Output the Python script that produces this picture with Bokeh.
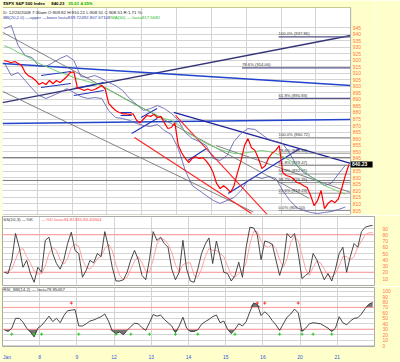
import numpy as np
from bokeh.plotting import figure
from bokeh.layouts import column
from bokeh.models import FixedTicker, LinearAxis
from bokeh.core.properties import value
from bokeh.embed import file_html
from bokeh.resources import INLINE

# ---------------- data ----------------
day_labels = ["Jan", "8", "9", "12", "13", "14", "15", "16", "20", "21"]
bars_per_day = 10
price_ticks = list(range(805, 950, 5))

close = [919.8, 919.0, 918.0, 919.0, 917.5, 916.0, 910.6, 908.0, 906.8, 904.5,
         901.4, 903.0, 901.4, 904.5, 902.0, 904.5, 903.0, 905.0, 907.5, 910.6,
         911.0, 899.0, 898.0, 896.8, 898.0, 896.8, 897.6, 899.0, 900.6, 898.0,
         887.0, 884.0, 881.5, 880.0, 879.0, 879.0, 878.5, 879.0, 874.0, 872.0,
         875.0, 877.7, 877.0, 878.5, 876.0, 877.0, 872.0, 867.7, 868.5, 872.0,
         854.7, 849.0, 844.8, 841.7, 844.8, 846.0, 844.8, 845.5, 843.0, 839.4,
         834.0, 825.7, 821.8, 824.0, 821.8, 818.8, 824.0, 834.0, 843.0, 854.7,
         860.0, 853.0, 851.0, 844.8, 837.0, 839.4, 845.5, 849.0, 851.0, 854.7,
         834.0, 831.8, 831.0, 829.5, 826.4, 825.7, 824.0, 822.6, 816.5, 808.8,
         812.6, 820.3, 806.5, 810.4, 812.6, 811.0, 814.0, 822.6, 832.0, 840.2]

# Bollinger bands and MA(50), one value every 2 bars
bb_upper = [944.2, 946.5, 931.2, 923.6, 922.0, 915.2, 915.2, 918.2, 921.3, 923.6,
            919.8, 907.5, 906.7, 908.3, 906.0, 902.9, 900.6, 896.8, 890.7, 886.1,
            881.5, 883.0, 885.3, 883.0, 879.2, 873.9, 864.7, 860.1, 857.8, 854.7,
            844.8, 843.3, 847.1, 857.8, 863.9, 867.7, 867.0, 863.1, 859.3, 857.8,
            856.3, 848.6, 839.4, 834.1, 831.0, 828.0, 824.1, 826.0, 833.0, 839.7]
bb_lower = [918.2, 908.3, 910.6, 904.5, 898.3, 893.0, 890.7, 893.0, 895.3, 898.3,
            895.3, 892.2, 890.7, 891.4, 890.7, 881.5, 876.1, 875.4, 873.9, 871.6,
            870.0, 869.3, 870.8, 866.2, 863.1, 852.4, 835.6, 824.1, 820.3, 816.5,
            812.7, 810.4, 812.7, 814.9, 820.3, 828.0, 831.0, 829.5, 831.0, 829.5,
            820.3, 812.7, 807.3, 805.0, 803.5, 802.7, 803.5, 804.2, 805.8, 807.7]
ma50 = [931.2, 928.9, 925.9, 923.6, 920.5, 917.5, 915.2, 912.9, 910.6, 909.0,
        906.7, 905.2, 903.7, 902.2, 900.6, 897.6, 894.5, 891.4, 888.4, 885.3,
        883.0, 880.7, 877.7, 875.4, 873.9, 870.8, 865.4, 862.4, 859.3, 856.3,
        854.0, 851.7, 850.1, 848.6, 848.6, 849.4, 850.1, 850.9, 850.1, 848.6,
        846.3, 843.3, 840.2, 835.6, 831.0, 827.2, 824.1, 821.8, 819.5, 817.6]

stoch_k = [20, 18, 39, 82, 60, 28, 39, 18, 4, 28,
           20, 71, 76, 50, 34, 25, 40, 66, 84, 55,
           50, 12, 23, 39, 35, 50, 45, 85, 60, 28,
           6, 6, 8, 20, 40, 55, 40, 15, 8, 40,
           85, 71, 76, 66, 60, 25, 8, 20, 71, 25,
           6, 4, 25, 50, 65, 75, 34, 70, 45, 20,
           18, 6, 15, 36, 12, 60, 92, 91, 80, 40,
           70, 68, 65, 40, 15, 35, 82, 75, 82, 50,
           10, 15, 20, 50, 40, 23, 8, 18, 6, 25,
           50, 60, 20, 45, 66, 60, 85, 92, 94, 94.8]
stoch_d = [20, 22, 25, 40, 55, 58, 45, 35, 22, 17,
           18, 30, 50, 60, 55, 40, 33, 42, 60, 65,
           62, 40, 28, 25, 32, 42, 45, 58, 65, 55,
           32, 15, 8, 12, 25, 38, 45, 35, 22, 20,
           40, 65, 75, 72, 65, 52, 32, 20, 32, 35,
           35, 15, 12, 25, 45, 58, 55, 55, 50, 45,
           30, 15, 12, 18, 22, 35, 65, 85, 85, 70,
           62, 60, 65, 58, 40, 28, 42, 68, 78, 70,
           48, 25, 15, 28, 38, 35, 25, 15, 12, 18,
           30, 45, 45, 40, 45, 60, 70, 80, 83, 83.4]
rsi = [29, 26, 32, 50, 50, 43, 32, 25, 16, 32,
       37, 45, 54, 44, 50, 42, 55, 64, 65, 66,
       36, 36, 40, 45, 47, 50, 53, 58, 45, 27,
       22, 25, 20, 28, 35, 41, 40, 33, 28, 42,
       57, 54, 56, 48, 42, 36, 24, 36, 52, 32,
       26, 26, 29, 39, 44, 48, 53, 56, 42, 45,
       30, 22, 30, 40, 36, 44, 62, 78, 76, 55,
       62, 56, 46, 38, 28, 40, 52, 58, 67, 60,
       26, 32, 40, 42, 41, 40, 36, 32, 26, 32,
       53, 42, 38, 45, 50, 51, 58, 68, 76, 78.9]
rsi_buy_bars = [2, 8, 10, 20, 30, 34, 39, 46, 52, 62, 74, 80, 83, 88]
rsi_sell_bars = [18, 68, 70, 79]

# hand-drawn trendlines: start day, start price, end day, end price
trend_x0 = [0.0, 0.0, 0.0, 4.92, 0.0, 0.0, 6.13, 0.0, 0.0,
            1.107, 1.107, 2.047, 2.047, 3.39, 3.39, 3.71, 3.98, 6.48, 5.32,
            4.97, 3.79]
trend_y0 = [887.6, 917.5, 871.6, 880.0, 941.4, 896.2, 854.7, 845.5, 828.0,
            908.3, 899.1, 898.3, 893.0, 880.0, 877.7, 863.9, 876.1, 818.0, 843.3,
            877.7, 860.8]
trend_x1 = [10.0, 10.0, 10.0, 10.0, 8.81, 7.2, 10.0, 10.0, 10.0,
            1.966, 1.966, 2.906, 2.906, 3.71, 3.71, 4.44, 4.44, 8.54, 5.86,
            7.6, 7.15]
trend_y1 = [938.9, 900.6, 874.6, 841.0, 814.3, 803.9, 818.8, 845.5, 828.0,
            911.3, 902.2, 902.9, 896.8, 880.0, 877.7, 875.4, 883.0, 852.4, 852.4,
            802.0, 802.7]
trend_colors = ["#333377", "#2244CC", "#2244CC", "#222299", "#666666", "#666666", "#666666",
                "#777777", "#777777",
                "#2233BB", "#2233BB", "#2233BB", "#2233BB", "#2233BB", "#2233BB",
                "#2233BB", "#2233BB", "#2233BB", "#2233BB",
                "#FF2222", "#FF2222"]
trend_widths = [1.3, 1.5, 1.5, 1.3, 0.8, 0.8, 0.8, 1.0, 1.0,
                1.1, 1.1, 1.1, 1.1, 1.1, 1.1, 1.1, 1.1, 1.2, 1.1,
                1.1, 1.1]

# fibonacci retracement (small swing)
fib_pct = ["0.0%", "23.6%", "38.2%", "50.0%", "61.8%", "78.6%", "100.0%"]
fib_low = 805.10
fib_high = 860.72
fib_ratio = [0.0, 0.236, 0.382, 0.5, 0.618, 0.786, 1.0]

# fibonacci retracement (large swing)
bigfib_pct = ["61.8%", "78.6%", "100.0%"]
bigfib_val = [890.83, 914.06, 937.86]
bigfib_start = [7.93, 6.88, 7.93]

last_price = 840.23

# ---------------- styling ----------------
YEL = "#FFFFCC"
GRID = "#D4D4D4"
AXC = "#FF7744"
FONT = "Liberation Sans"
FS = "5px"
SFS = "4.4px"

x_bar = [(i + 0.5) / bars_per_day for i in range(len(close))]
x_half = [(2 * i + 0.5) / bars_per_day for i in range(len(bb_upper))]


def style_axis(ax, ticks):
    ax.ticker = FixedTicker(ticks=ticks)
    ax.axis_line_color = None
    ax.major_tick_line_color = None
    ax.minor_tick_line_color = None
    ax.major_label_text_color = AXC
    ax.major_label_text_font = FONT
    ax.major_label_text_font_size = FS
    ax.major_label_standoff = 2


def txt(p, x, y, s, color="#222222", size=SFS, bold=False, base="middle"):
    p.text(x=[x], y=[y], text=[s], text_color=color, text_font=value(FONT),
           text_font_size=size, text_font_style="bold" if bold else "normal",
           text_baseline=base, text_align="left")


# ---------------- main price panel ----------------
XR = 10.685
YB, YT = 801.94, 965.67
YHDR = 960.32
p1 = figure(width=400, height=215, x_range=(0, XR), y_range=(YB, YT),
            x_axis_location=None, y_axis_location=None,
            toolbar_location=None, output_backend="svg",
            min_border_left=2, min_border_right=0, min_border_top=0, min_border_bottom=1)
p1.background_fill_color = "white"
p1.border_fill_color = YEL
p1.outline_line_color = None
p1.ygrid.ticker = FixedTicker(ticks=price_ticks)
p1.ygrid.grid_line_color = GRID
p1.xgrid.ticker = FixedTicker(ticks=list(range(1, 10)))
p1.xgrid.grid_line_color = GRID

p1.segment(trend_x0, trend_y0, trend_x1, trend_y1, color=trend_colors, line_width=trend_widths)

for r, pct in zip(fib_ratio, fib_pct):
    lvl = fib_low + r * (fib_high - fib_low)
    p1.segment([7.93], [lvl], [10], [lvl], color="#777777", line_width=0.8)
    txt(p1, 7.93, lvl + 0.4, f"{pct}  ({lvl:.2f})", color="#333333", size="4.2px", base="bottom")
for v, pct, s in zip(bigfib_val, bigfib_pct, bigfib_start):
    p1.segment([s], [v], [10], [v], color="#555588", line_width=1.2)
    txt(p1, s, v + 0.4, f"{pct}  ({v:.2f})", color="#333333", size="4.2px", base="bottom")

p1.line(x_half, bb_upper, color="#5555AA", line_width=0.8)
p1.line(x_half, bb_lower, color="#5555AA", line_width=0.8)
p1.line(x_half, ma50, color="#66CC66", line_width=0.9)
p1.line(x_bar, close, color="#FF0000", line_width=1.2)

# yellow header strip and price-scale strip
p1.quad(left=[0], right=[XR], bottom=[YHDR], top=[YT], color=YEL, line_color=None)
p1.quad(left=[10], right=[XR], bottom=[YB], top=[YT], color=YEL, line_color=None)
p1.segment([0, 10, 0], [YHDR, YB, YB], [10, 10, 10], [YHDR, YHDR, YB],
           color=["#C8C890", "#AAAAAA", "#AAAAAA"], line_width=1)

p1.text(x=[10.06] * len(price_ticks), y=price_ticks, text=[str(t) for t in price_ticks],
        text_color=AXC, text_font=value(FONT), text_font_size=FS, text_baseline="middle")
p1.quad(left=[10.0], right=[10.63], bottom=[last_price - 2.3], top=[last_price + 2.3],
        color="black", line_color=None)
txt(p1, 10.04, last_price, f"{last_price:.2f}", color="white", size=FS, bold=True)

ymid_hdr = (YHDR + YT) / 2
txt(p1, 0.02, ymid_hdr, "$SPX S&P 500 Index", color="black", size="4.3px", bold=True)
txt(p1, 1.40, ymid_hdr, f"{last_price:.2f}", color="black", size="4.3px", bold=True)
txt(p1, 1.89, ymid_hdr, "35.01", color="#00AA00", size="4.3px", bold=True)
txt(p1, 2.24, ymid_hdr, "4.35%", color="#00AA00", size="4.3px", bold=True)
txt(p1, 0.02, 956.5, "D: 12/24/2008   7:30am O:909.82 H:910.22 L:908.51 C:908.51 R:1.71 %:",
    color="#222222")
txt(p1, 0.02, 952.7, "BB(20,2.0) \u2014upper \u2014lower last=839.72492,807.67108", color="#3344AA")
txt(p1, 3.12, 952.7, "MA(50) \u2014 last=817.5682", color="#22BB22")


def base(height, yr, ticks, top, bottom):
    p = figure(width=400, height=height, x_range=(0, 10), y_range=yr,
               y_axis_location="right", x_axis_location=None,
               toolbar_location=None, output_backend="svg",
               min_border_left=2, min_border_right=26,
               min_border_top=top, min_border_bottom=bottom)
    p.background_fill_color = "white"
    p.border_fill_color = YEL
    p.outline_line_color = "#AAAAAA"
    style_axis(p.yaxis[0], ticks)
    p.ygrid.ticker = FixedTicker(ticks=ticks)
    p.ygrid.grid_line_color = GRID
    p.xgrid.ticker = FixedTicker(ticks=list(range(1, 10)))
    p.xgrid.grid_line_color = GRID
    return p


# ---------------- stochastic panel ----------------
S_TOP = 109.2
p2 = base(71, (-1.2, S_TOP), list(range(10, 100, 10)), 1, 1)
p2.segment([0, 0], [20, 80], [10, 10], [20, 80], color="#FF9999", line_width=1)
p2.line(x_bar, stoch_d, color="#FF9999", line_width=0.9)
p2.line(x_bar, stoch_k, color="#333333", line_width=0.9)
txt(p2, 0.02, S_TOP - 4.5, "SS(10,3) \u2014%K", color="#333333")
txt(p2, 1.05, S_TOP - 4.5, "\u2014%D last=94.81335,83.40564", color="#FF5555")

# ---------------- RSI panel ----------------
R_TOP = 106.5
p3 = base(76, (-1.6, R_TOP), list(range(0, 101, 10)), 1, 8)
rs = np.array(rsi, dtype=float)
p3.varea(x=x_bar, y1=np.minimum(rs, 30), y2=30, color="#666666", alpha=0.9)
p3.varea(x=x_bar, y1=70, y2=np.maximum(rs, 70), color="#666666", alpha=0.9)
p3.segment([0, 0], [30, 70], [10, 10], [30, 70], color="#FF9999", line_width=1)
p3.line(x_bar, rsi, color="#333333", line_width=0.9)
p3.scatter([x_bar[i] for i in rsi_buy_bars], [21] * len(rsi_buy_bars), marker="cross",
           size=3, color="#22CC22", line_width=1)
p3.scatter([x_bar[i] for i in rsi_sell_bars], [78] * len(rsi_sell_bars), marker="cross",
           size=3, color="#FF3333", line_width=1)
txt(p3, 0.02, R_TOP - 4.5, "RSI_BB(14,2) \u2014 last=78.85467", color="#333333")

# date axis along the bottom
dax = LinearAxis(ticker=FixedTicker(ticks=[0.12] + list(range(1, 10))))
dax.major_label_overrides = {0.12: day_labels[0], **{i: day_labels[i] for i in range(1, 10)}}
dax.axis_line_color = None
dax.major_tick_line_color = None
dax.minor_tick_line_color = None
dax.major_label_text_color = "#3355DD"
dax.major_label_text_font = FONT
dax.major_label_text_font_size = FS
dax.major_label_standoff = 1
p3.add_layout(dax, "below")

layout = column(p1, p2, p3, spacing=0)
open("out.html", "w").write(file_html(layout, INLINE))
